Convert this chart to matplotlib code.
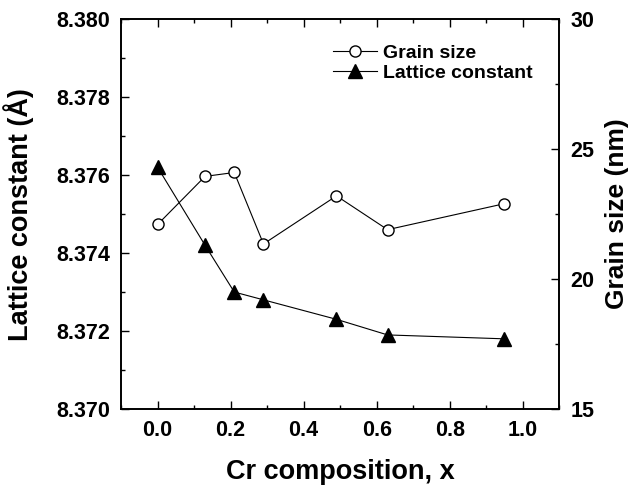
import numpy as np
import matplotlib.pyplot as plt
from matplotlib.ticker import MultipleLocator
from matplotlib.lines import Line2D

plt.rcParams['font.family'] = ['Liberation Sans', 'DejaVu Sans']
plt.rcParams['font.weight'] = 'bold'

# ===== DATA =====
cr_x = [0.0, 0.13, 0.21, 0.29, 0.49, 0.63, 0.95]
lattice = [8.3762, 8.3742, 8.3730, 8.3728, 8.3723, 8.3719, 8.3718]
grain = [22.1, 23.95, 24.1, 21.35, 23.2, 21.9, 22.9]

fig = plt.figure(figsize=(6.34, 4.91), dpi=100)
ax1 = fig.add_axes([0.191, 0.167, 0.691, 0.794])
ax2 = ax1.twinx()

# lattice constant (left)
ax1.plot(cr_x, lattice, color='black', lw=0.8, marker='^', ms=10,
         markerfacecolor='black', markeredgecolor='black', zorder=3)
# grain size (right)
ax2.plot(cr_x, grain, color='black', lw=0.8, marker='o', ms=8,
         markerfacecolor='white', markeredgecolor='black', zorder=3)

ax1.set_xlim(-0.1, 1.1)
ax1.set_ylim(8.370, 8.380)
ax2.set_ylim(15, 30)

ax1.xaxis.set_major_locator(MultipleLocator(0.2))
ax1.xaxis.set_minor_locator(MultipleLocator(0.1))
ax1.yaxis.set_major_locator(MultipleLocator(0.002))
ax1.yaxis.set_minor_locator(MultipleLocator(0.001))
ax2.yaxis.set_major_locator(MultipleLocator(5))
ax2.yaxis.set_minor_locator(MultipleLocator(2.5))
ax1.yaxis.set_major_formatter(plt.FormatStrFormatter('%.3f'))
ax1.xaxis.set_major_formatter(plt.FormatStrFormatter('%.1f'))

ax1.tick_params(axis='both', which='major', direction='in', length=6, width=1,
                labelsize=15.5, top=True)
ax1.tick_params(axis='x', which='major', pad=8)
ax1.tick_params(axis='y', which='major', pad=8)
ax1.tick_params(axis='both', which='minor', direction='in', length=3, width=1, top=True)
ax1.tick_params(axis='y', which='both', right=False)
ax2.tick_params(axis='y', which='major', direction='in', length=6, width=1, labelsize=15.5, pad=8)
ax2.tick_params(axis='y', which='minor', direction='in', length=3, width=1)

for ax in (ax1, ax2):
    for s in ax.spines.values():
        s.set_linewidth(1.2)
    for lab in ax.get_xticklabels() + ax.get_yticklabels():
        lab.set_fontweight('bold')

ax1.set_xlabel('Cr composition, x', fontsize=19.5, fontweight='bold', labelpad=13)
ax1.set_ylabel('Lattice constant (Å)', fontsize=19.5, fontweight='bold', labelpad=16)
ax2.set_ylabel('Grain size (nm)', fontsize=19, fontweight='bold', labelpad=8)

handles = [
    Line2D([], [], color='black', lw=0.8, marker='o', ms=8,
           markerfacecolor='white', markeredgecolor='black', label='Grain size'),
    Line2D([], [], color='black', lw=0.8, marker='^', ms=10,
           markerfacecolor='black', label='Lattice constant'),
]
ax1.legend(handles=handles, loc='upper right', bbox_to_anchor=(0.98, 0.98),
           frameon=False, prop={'size': 14, 'weight': 'bold'},
           handlelength=2.3, handletextpad=0.3, labelspacing=0.1)

fig.savefig('out.png', dpi=100)
